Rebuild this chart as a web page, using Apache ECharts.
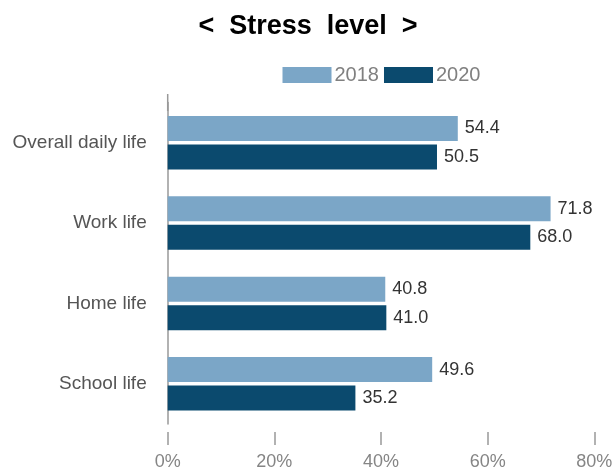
<!DOCTYPE html>
<html>
<head>
<meta charset="utf-8">
<script src="https://cdn.jsdelivr.net/npm/echarts@6/dist/echarts.min.js"></script>
<style>
  html, body { margin: 0; padding: 0; background: #fff; }
  #chart { width: 616px; height: 468px; }
</style>
</head>
<body>
<div id="chart"></div>
<script>
// Stress level by area of life, share of respondents (%)
const categories = ['Overall daily life', 'Work life', 'Home life', 'School life'];
const values2018 = [54.4, 71.8, 40.8, 49.6];
const values2020 = [50.5, 68.0, 41.0, 35.2];
const xTicks = [0, 20, 40, 60, 80];

const chart = echarts.init(document.getElementById('chart'), null, { renderer: 'canvas' });

const valueLabel = {
  show: true,
  position: 'right',
  distance: 7,
  color: '#333',
  fontSize: 18,
  fontFamily: 'Liberation Sans, Arial, sans-serif',
  formatter: p => p.value.toFixed(1)
};

chart.setOption({
  backgroundColor: '#fff',
  animation: false,
  title: {
    text: '<  Stress  level  >',
    left: 'center',
    top: 8,
    textStyle: {
      fontSize: 27,
      fontWeight: 'bold',
      color: '#000',
      fontFamily: 'Liberation Sans, Arial, sans-serif'
    }
  },
  legend: {
    left: 277.5,
    top: 60,
    padding: 5,
    itemWidth: 49,
    itemHeight: 16,
    itemGap: 5,
    icon: 'rect',
    textStyle: {
      fontSize: 20,
      color: '#808080',
      padding: [0, 0, 0, -2],
      fontFamily: 'Liberation Sans, Arial, sans-serif'
    },
    data: ['2018', '2020']
  },
  grid: {
    left: 167.7,
    right: 21.7,
    top: 102.5,
    bottom: 44,
    containLabel: false,
    outerBoundsMode: 'none'
  },
  xAxis: {
    type: 'value',
    min: xTicks[0],
    max: xTicks[xTicks.length - 1],
    interval: 20,
    offset: 8,
    axisLine: { show: false },
    axisTick: { show: true, length: 13, lineStyle: { color: '#999', width: 1.5 } },
    splitLine: { show: false },
    axisLabel: {
      margin: 21,
      fontSize: 18,
      color: '#858585',
      fontFamily: 'Liberation Sans, Arial, sans-serif',
      formatter: v => v + '%'
    }
  },
  yAxis: {
    type: 'category',
    data: categories,
    inverse: true,
    axisLine: {
      show: true,
      symbol: ['none', 'rect'],
      symbolSize: [1.5, 17],
      lineStyle: { color: '#999', width: 1.5 }
    },
    axisTick: { show: false },
    axisLabel: {
      margin: 21,
      fontSize: 19,
      color: '#555',
      fontFamily: 'Liberation Sans, Arial, sans-serif'
    }
  },
  series: [
    {
      name: '2018',
      type: 'bar',
      data: values2018,
      barWidth: 25,
      barGap: '14%',
      itemStyle: { color: '#7ba6c7' },
      label: valueLabel
    },
    {
      name: '2020',
      type: 'bar',
      data: values2020,
      barWidth: 25,
      barGap: '14%',
      itemStyle: { color: '#0b4a6e' },
      label: valueLabel
    }
  ]
});
</script>
</body>
</html>
